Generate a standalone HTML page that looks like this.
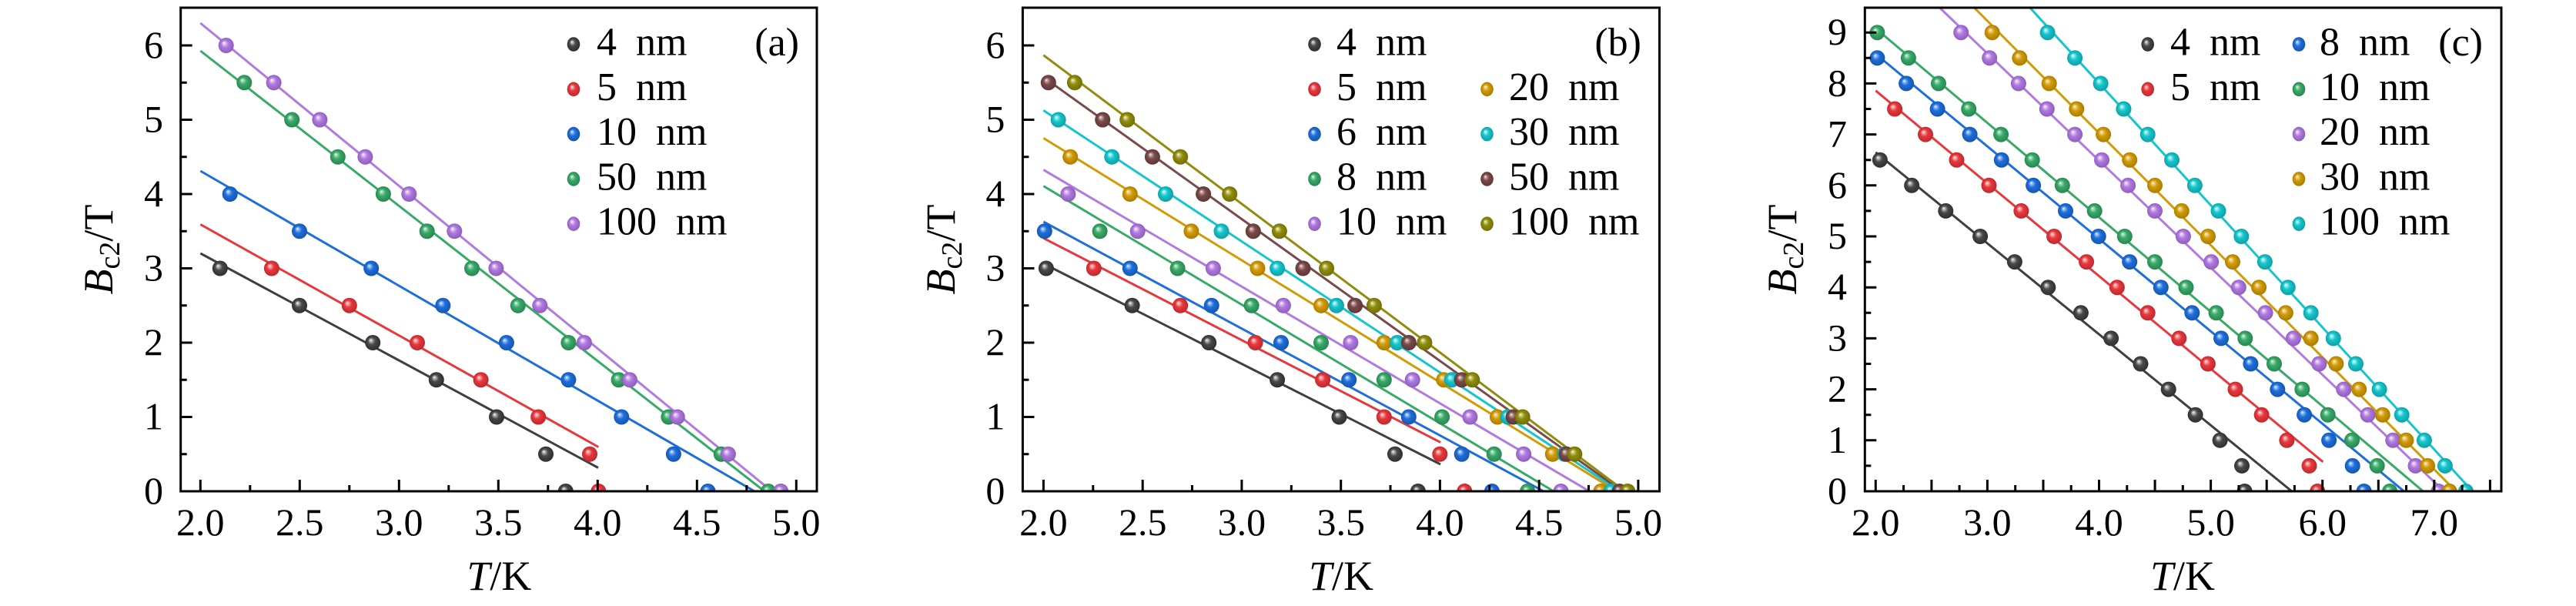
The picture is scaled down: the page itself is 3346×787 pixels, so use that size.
<!DOCTYPE html>
<html><head><meta charset="utf-8"><style>
html,body{margin:0;padding:0;background:#fff}
svg{display:block;font-family:"Liberation Serif","DejaVu Serif",serif}
text{font-family:"Liberation Serif","DejaVu Serif",serif;fill:#000}
.tk{font-size:50px}
.lg{font-size:52px;word-spacing:12px}
.al{font-size:54px}
</style></head><body>
<svg width="3346" height="787" viewBox="0 0 3346 787" xmlns="http://www.w3.org/2000/svg" font-family="Liberation Serif, serif">
<defs>
<radialGradient id="gk" cx=".5" cy=".5" r=".55" fx=".36" fy=".33"><stop offset="0" stop-color="#fff"/><stop offset=".13" stop-color="#bdbdbd"/><stop offset=".42" stop-color="#4a4a4a"/><stop offset="1" stop-color="#2a2a2a"/></radialGradient>
<radialGradient id="gr" cx=".5" cy=".5" r=".55" fx=".36" fy=".33"><stop offset="0" stop-color="#fff"/><stop offset=".13" stop-color="#f8b0b2"/><stop offset=".42" stop-color="#e8383d"/><stop offset="1" stop-color="#b8262a"/></radialGradient>
<radialGradient id="gb" cx=".5" cy=".5" r=".55" fx=".36" fy=".33"><stop offset="0" stop-color="#fff"/><stop offset=".13" stop-color="#9cc3f5"/><stop offset=".42" stop-color="#1e6fdc"/><stop offset="1" stop-color="#1452a8"/></radialGradient>
<radialGradient id="gg" cx=".5" cy=".5" r=".55" fx=".36" fy=".33"><stop offset="0" stop-color="#fff"/><stop offset=".13" stop-color="#a6dcbd"/><stop offset=".42" stop-color="#38aa68"/><stop offset="1" stop-color="#27804d"/></radialGradient>
<radialGradient id="gp" cx=".5" cy=".5" r=".55" fx=".36" fy=".33"><stop offset="0" stop-color="#fff"/><stop offset=".13" stop-color="#e1cbf5"/><stop offset=".42" stop-color="#b07ade"/><stop offset="1" stop-color="#8a58b8"/></radialGradient>
<radialGradient id="gy" cx=".5" cy=".5" r=".55" fx=".36" fy=".33"><stop offset="0" stop-color="#fff"/><stop offset=".13" stop-color="#f0d690"/><stop offset=".42" stop-color="#d29b06"/><stop offset="1" stop-color="#a47700"/></radialGradient>
<radialGradient id="gc" cx=".5" cy=".5" r=".55" fx=".36" fy=".33"><stop offset="0" stop-color="#fff"/><stop offset=".13" stop-color="#a0eef0"/><stop offset=".42" stop-color="#14c6cc"/><stop offset="1" stop-color="#0e9aa0"/></radialGradient>
<radialGradient id="gn" cx=".5" cy=".5" r=".55" fx=".36" fy=".33"><stop offset="0" stop-color="#fff"/><stop offset=".13" stop-color="#c7a9a9"/><stop offset=".42" stop-color="#7a4a4a"/><stop offset="1" stop-color="#5a3434"/></radialGradient>
<radialGradient id="go" cx=".5" cy=".5" r=".55" fx=".36" fy=".33"><stop offset="0" stop-color="#fff"/><stop offset=".13" stop-color="#d4d38a"/><stop offset=".42" stop-color="#8f8d0c"/><stop offset="1" stop-color="#6c6a06"/></radialGradient>
<clipPath id="ca"><rect x="234.7" y="10" width="826.3" height="628"/></clipPath>
<clipPath id="cb"><rect x="1328.4" y="10" width="827.1" height="628"/></clipPath>
<clipPath id="cc"><rect x="2422.3" y="10" width="826.7" height="628"/></clipPath>
</defs>

<!-- ================= PANEL A ================= -->
<g clip-path="url(#ca)">
<g stroke-width="3" fill="none">
<line x1="260.3" y1="329" x2="777" y2="607.5" stroke="#3f3f3f"/>
<line x1="260.3" y1="291.4" x2="777.3" y2="580.5" stroke="#e8383d"/>
<line x1="260.3" y1="222" x2="980" y2="638" stroke="#1e6fdc"/>
<line x1="260.3" y1="66" x2="993" y2="638" stroke="#38aa68"/>
<line x1="260.3" y1="30" x2="1002.5" y2="638" stroke="#b07ade"/>
</g>
<g fill="url(#gk)"><circle cx="285.8" cy="348.5" r="10"/><circle cx="389.0" cy="396.75" r="10"/><circle cx="484.2" cy="445" r="10"/><circle cx="566.8" cy="493.25" r="10"/><circle cx="645.0" cy="541.5" r="10"/><circle cx="709.0" cy="589.75" r="10"/><circle cx="734.8" cy="638" r="10"/></g>
<g fill="url(#gr)"><circle cx="352.9" cy="348.5" r="10"/><circle cx="453.8" cy="396.75" r="10"/><circle cx="542.0" cy="445" r="10"/><circle cx="624.6" cy="493.25" r="10"/><circle cx="699.2" cy="541.5" r="10"/><circle cx="766.0" cy="589.75" r="10"/><circle cx="777.3" cy="638" r="10"/></g>
<g fill="url(#gb)"><circle cx="298.7" cy="252" r="10"/><circle cx="389.0" cy="300.25" r="10"/><circle cx="482.2" cy="348.5" r="10"/><circle cx="575.3" cy="396.75" r="10"/><circle cx="657.9" cy="445" r="10"/><circle cx="738.4" cy="493.25" r="10"/><circle cx="807.3" cy="541.5" r="10"/><circle cx="874.9" cy="589.75" r="10"/><circle cx="919.5" cy="638" r="10"/></g>
<g fill="url(#gg)"><circle cx="317.3" cy="107.25" r="10"/><circle cx="379.2" cy="155.5" r="10"/><circle cx="438.8" cy="203.75" r="10"/><circle cx="497.9" cy="252" r="10"/><circle cx="554.7" cy="300.25" r="10"/><circle cx="613.0" cy="348.5" r="10"/><circle cx="672.8" cy="396.75" r="10"/><circle cx="738.4" cy="445" r="10"/><circle cx="803.6" cy="493.25" r="10"/><circle cx="868.4" cy="541.5" r="10"/><circle cx="936.8" cy="589.75" r="10"/><circle cx="997.9" cy="638" r="10"/></g>
<g fill="url(#gp)"><circle cx="293.7" cy="59" r="10"/><circle cx="355.6" cy="107.25" r="10"/><circle cx="415.4" cy="155.5" r="10"/><circle cx="474.4" cy="203.75" r="10"/><circle cx="531.3" cy="252" r="10"/><circle cx="590.3" cy="300.25" r="10"/><circle cx="644.4" cy="348.5" r="10"/><circle cx="701.3" cy="396.75" r="10"/><circle cx="758.9" cy="445" r="10"/><circle cx="817.9" cy="493.25" r="10"/><circle cx="879.8" cy="541.5" r="10"/><circle cx="945.9" cy="589.75" r="10"/><circle cx="1014.2" cy="638" r="10"/></g>
</g>
<rect x="234.7" y="10" width="826.3" height="628" fill="none" stroke="#000" stroke-width="3"/>
<path stroke="#000" stroke-width="3" fill="none" d="M260.3 638v-15M324.8 638v-8M389.3 638v-15M453.8 638v-8M518.3 638v-15M582.8 638v-8M647.3 638v-15M711.8 638v-8M776.3 638v-15M840.8 638v-8M905.3 638v-15M969.8 638v-8M1034.3 638v-15
M234.7 638h15M234.7 589.75h8M234.7 541.5h15M234.7 493.25h8M234.7 445h15M234.7 396.75h8M234.7 348.5h15M234.7 300.25h8M234.7 252h15M234.7 203.75h8M234.7 155.5h15M234.7 107.25h8M234.7 59h15"/>
<g class="tk" text-anchor="middle">
<text x="260.3" y="695">2.0</text><text x="389.3" y="695">2.5</text><text x="518.3" y="695">3.0</text><text x="647.3" y="695">3.5</text><text x="776.3" y="695">4.0</text><text x="905.3" y="695">4.5</text><text x="1034.3" y="695">5.0</text>
</g>
<g class="tk" text-anchor="end">
<text x="212" y="654">0</text><text x="212" y="557.5">1</text><text x="212" y="461">2</text><text x="212" y="364.5">3</text><text x="212" y="268">4</text><text x="212" y="171.5">5</text><text x="212" y="75">6</text>
</g>
<text class="al" x="648.4" y="766" text-anchor="middle"><tspan font-style="italic">T</tspan>/K</text>
<text class="al" transform="translate(146,324) rotate(-90)" text-anchor="middle"><tspan font-style="italic">B</tspan><tspan font-size="38" dy="9">c2</tspan><tspan dy="-9">/T</tspan></text>
<g>
<ellipse cx="745" cy="57.5" rx="8.3" ry="9.3" fill="url(#gk)"/>
<ellipse cx="745" cy="115.8" rx="8.3" ry="9.3" fill="url(#gr)"/>
<ellipse cx="745" cy="174.1" rx="8.3" ry="9.3" fill="url(#gb)"/>
<ellipse cx="745" cy="232.4" rx="8.3" ry="9.3" fill="url(#gg)"/>
<ellipse cx="745" cy="290.7" rx="8.3" ry="9.3" fill="url(#gp)"/>
</g>
<g class="lg">
<text x="775" y="71.5">4 nm</text><text x="775" y="129.8">5 nm</text><text x="775" y="188.1">10 nm</text><text x="775" y="246.4">50 nm</text><text x="775" y="304.7">100 nm</text>
</g>
<text class="lg" x="1038" y="72" text-anchor="end">(a)</text>

<!-- ================= PANEL B ================= -->
<g clip-path="url(#cb)">
<g stroke-width="3" fill="none">
<line x1="1355.4" y1="342.4" x2="1871" y2="603" stroke="#3f3f3f"/>
<line x1="1355.4" y1="309.3" x2="1871" y2="574.4" stroke="#e8383d"/>
<line x1="1355.4" y1="288" x2="2005" y2="638" stroke="#1e6fdc"/>
<line x1="1355.4" y1="241.6" x2="2018" y2="638" stroke="#38aa68"/>
<line x1="1355.4" y1="220.6" x2="2064.5" y2="638" stroke="#b07ade"/>
<line x1="1355.4" y1="179.4" x2="2100" y2="638" stroke="#d29b06"/>
<line x1="1355.4" y1="143.4" x2="2104" y2="638" stroke="#14c6cc"/>
<line x1="1355.4" y1="100.3" x2="2107" y2="638" stroke="#7a4a4a"/>
<line x1="1355.4" y1="71.7" x2="2110.7" y2="638" stroke="#8f8d0c"/>
</g>
<g fill="url(#gk)"><circle cx="1358.9" cy="348.5" r="10"/><circle cx="1470.6" cy="396.75" r="10"/><circle cx="1570.2" cy="445" r="10"/><circle cx="1659.1" cy="493.25" r="10"/><circle cx="1739.5" cy="541.5" r="10"/><circle cx="1812.0" cy="589.75" r="10"/><circle cx="1841.9" cy="638" r="10"/></g>
<g fill="url(#gr)"><circle cx="1420.8" cy="348.5" r="10"/><circle cx="1533.2" cy="396.75" r="10"/><circle cx="1630.6" cy="445" r="10"/><circle cx="1718.1" cy="493.25" r="10"/><circle cx="1797.8" cy="541.5" r="10"/><circle cx="1870.3" cy="589.75" r="10"/><circle cx="1902.3" cy="638" r="10"/></g>
<g fill="url(#gb)"><circle cx="1356.8" cy="300.25" r="10"/><circle cx="1467.8" cy="348.5" r="10"/><circle cx="1573.7" cy="396.75" r="10"/><circle cx="1664.0" cy="445" r="10"/><circle cx="1752.2" cy="493.25" r="10"/><circle cx="1829.8" cy="541.5" r="10"/><circle cx="1898.7" cy="589.75" r="10"/><circle cx="1937.9" cy="638" r="10"/></g>
<g fill="url(#gg)"><circle cx="1428.6" cy="300.25" r="10"/><circle cx="1529.6" cy="348.5" r="10"/><circle cx="1625.6" cy="396.75" r="10"/><circle cx="1716.0" cy="445" r="10"/><circle cx="1797.8" cy="493.25" r="10"/><circle cx="1873.1" cy="541.5" r="10"/><circle cx="1940.7" cy="589.75" r="10"/><circle cx="1984.1" cy="638" r="10"/></g>
<g fill="url(#gp)"><circle cx="1387.4" cy="252" r="10"/><circle cx="1477.7" cy="300.25" r="10"/><circle cx="1575.9" cy="348.5" r="10"/><circle cx="1666.9" cy="396.75" r="10"/><circle cx="1754.4" cy="445" r="10"/><circle cx="1834.7" cy="493.25" r="10"/><circle cx="1909.4" cy="541.5" r="10"/><circle cx="1979.1" cy="589.75" r="10"/><circle cx="2027.5" cy="638" r="10"/></g>
<g fill="url(#gy)"><circle cx="1390.2" cy="203.75" r="10"/><circle cx="1467.8" cy="252" r="10"/><circle cx="1547.4" cy="300.25" r="10"/><circle cx="1633.5" cy="348.5" r="10"/><circle cx="1716.0" cy="396.75" r="10"/><circle cx="1797.8" cy="445" r="10"/><circle cx="1875.3" cy="493.25" r="10"/><circle cx="1945.0" cy="541.5" r="10"/><circle cx="2016.8" cy="589.75" r="10"/><circle cx="2079.4" cy="638" r="10"/></g>
<g fill="url(#gc)"><circle cx="1374.6" cy="155.5" r="10"/><circle cx="1444.3" cy="203.75" r="10"/><circle cx="1514.0" cy="252" r="10"/><circle cx="1586.5" cy="300.25" r="10"/><circle cx="1659.1" cy="348.5" r="10"/><circle cx="1735.9" cy="396.75" r="10"/><circle cx="1814.8" cy="445" r="10"/><circle cx="1885.9" cy="493.25" r="10"/><circle cx="1958.5" cy="541.5" r="10"/><circle cx="2032.4" cy="589.75" r="10"/><circle cx="2092.9" cy="638" r="10"/></g>
<g fill="url(#gn)"><circle cx="1361.8" cy="107.25" r="10"/><circle cx="1432.2" cy="155.5" r="10"/><circle cx="1496.9" cy="203.75" r="10"/><circle cx="1563.1" cy="252" r="10"/><circle cx="1627.8" cy="300.25" r="10"/><circle cx="1692.5" cy="348.5" r="10"/><circle cx="1760.1" cy="396.75" r="10"/><circle cx="1829.8" cy="445" r="10"/><circle cx="1898.7" cy="493.25" r="10"/><circle cx="1965.6" cy="541.5" r="10"/><circle cx="2034.6" cy="589.75" r="10"/><circle cx="2103.6" cy="638" r="10"/></g>
<g fill="url(#go)"><circle cx="1395.9" cy="107.25" r="10"/><circle cx="1464.2" cy="155.5" r="10"/><circle cx="1533.2" cy="203.75" r="10"/><circle cx="1597.2" cy="252" r="10"/><circle cx="1661.9" cy="300.25" r="10"/><circle cx="1723.1" cy="348.5" r="10"/><circle cx="1784.9" cy="396.75" r="10"/><circle cx="1850.4" cy="445" r="10"/><circle cx="1912.3" cy="493.25" r="10"/><circle cx="1977.7" cy="541.5" r="10"/><circle cx="2045.3" cy="589.75" r="10"/><circle cx="2114.2" cy="638" r="10"/></g>
</g>
<rect x="1328.4" y="10" width="827.1" height="628" fill="none" stroke="#000" stroke-width="3"/>
<path stroke="#000" stroke-width="3" fill="none" d="M1355.4 638v-15M1419.8 638v-8M1484.2 638v-15M1548.5 638v-8M1612.9 638v-15M1677.3 638v-8M1741.7 638v-15M1806 638v-8M1870.4 638v-15M1934.8 638v-8M1999.2 638v-15M2063.5 638v-8M2127.9 638v-15
M1328.4 638h15M1328.4 589.75h8M1328.4 541.5h15M1328.4 493.25h8M1328.4 445h15M1328.4 396.75h8M1328.4 348.5h15M1328.4 300.25h8M1328.4 252h15M1328.4 203.75h8M1328.4 155.5h15M1328.4 107.25h8M1328.4 59h15"/>
<g class="tk" text-anchor="middle">
<text x="1355.4" y="695">2.0</text><text x="1484.2" y="695">2.5</text><text x="1612.9" y="695">3.0</text><text x="1741.7" y="695">3.5</text><text x="1870.4" y="695">4.0</text><text x="1999.2" y="695">4.5</text><text x="2127.9" y="695">5.0</text>
</g>
<g class="tk" text-anchor="end">
<text x="1305.4" y="654">0</text><text x="1305.4" y="557.5">1</text><text x="1305.4" y="461">2</text><text x="1305.4" y="364.5">3</text><text x="1305.4" y="268">4</text><text x="1305.4" y="171.5">5</text><text x="1305.4" y="75">6</text>
</g>
<text class="al" x="1742" y="766" text-anchor="middle"><tspan font-style="italic">T</tspan>/K</text>
<text class="al" transform="translate(1240,324) rotate(-90)" text-anchor="middle"><tspan font-style="italic">B</tspan><tspan font-size="38" dy="9">c2</tspan><tspan dy="-9">/T</tspan></text>
<g>
<ellipse cx="1707.5" cy="57.5" rx="8.3" ry="9.3" fill="url(#gk)"/>
<ellipse cx="1707.5" cy="115.8" rx="8.3" ry="9.3" fill="url(#gr)"/>
<ellipse cx="1707.5" cy="174.1" rx="8.3" ry="9.3" fill="url(#gb)"/>
<ellipse cx="1707.5" cy="232.4" rx="8.3" ry="9.3" fill="url(#gg)"/>
<ellipse cx="1707.5" cy="290.7" rx="8.3" ry="9.3" fill="url(#gp)"/>
<ellipse cx="1931.5" cy="115.8" rx="8.3" ry="9.3" fill="url(#gy)"/>
<ellipse cx="1931.5" cy="174.1" rx="8.3" ry="9.3" fill="url(#gc)"/>
<ellipse cx="1931.5" cy="232.4" rx="8.3" ry="9.3" fill="url(#gn)"/>
<ellipse cx="1931.5" cy="290.7" rx="8.3" ry="9.3" fill="url(#go)"/>
</g>
<g class="lg">
<text x="1736" y="71.5">4 nm</text><text x="1736" y="129.8">5 nm</text><text x="1736" y="188.1">6 nm</text><text x="1736" y="246.4">8 nm</text><text x="1736" y="304.7">10 nm</text>
<text x="1960" y="129.8">20 nm</text><text x="1960" y="188.1">30 nm</text><text x="1960" y="246.4">50 nm</text><text x="1960" y="304.7">100 nm</text>
</g>
<text class="lg" x="2132" y="72" text-anchor="end">(b)</text>

<!-- ================= PANEL C ================= -->
<g clip-path="url(#cc)">
<g stroke-width="3" fill="none">
<line x1="2436.3" y1="197.8" x2="2976.8" y2="638" stroke="#3f3f3f"/>
<line x1="2436.3" y1="117.7" x2="3017.3" y2="599.9" stroke="#e8383d"/>
<line x1="2436.3" y1="70" x2="3122.6" y2="638" stroke="#1e6fdc"/>
<line x1="2436.3" y1="36.9" x2="3147.4" y2="638" stroke="#38aa68"/>
<line x1="2519.5" y1="10" x2="3174.5" y2="638" stroke="#b07ade"/>
<line x1="2564.3" y1="10" x2="3190.1" y2="638" stroke="#d29b06"/>
<line x1="2636.8" y1="10" x2="3211.5" y2="638" stroke="#14c6cc"/>
</g>
<g fill="url(#gk)"><circle cx="2441.9" cy="207.7" r="10"/><circle cx="2483.2" cy="240.8" r="10"/><circle cx="2527.3" cy="273.9" r="10"/><circle cx="2572.1" cy="307" r="10"/><circle cx="2616.9" cy="340.1" r="10"/><circle cx="2660.3" cy="373.2" r="10"/><circle cx="2702.9" cy="406.3" r="10"/><circle cx="2742.1" cy="439.4" r="10"/><circle cx="2780.5" cy="472.5" r="10"/><circle cx="2816.7" cy="505.6" r="10"/><circle cx="2851.6" cy="538.7" r="10"/><circle cx="2883.6" cy="571.8" r="10"/><circle cx="2912.0" cy="604.9" r="10"/><circle cx="2915.6" cy="638" r="10"/></g>
<g fill="url(#gr)"><circle cx="2461.1" cy="141.5" r="10"/><circle cx="2501.0" cy="174.6" r="10"/><circle cx="2541.5" cy="207.7" r="10"/><circle cx="2583.5" cy="240.8" r="10"/><circle cx="2625.4" cy="273.9" r="10"/><circle cx="2668.1" cy="307" r="10"/><circle cx="2710.1" cy="340.1" r="10"/><circle cx="2749.9" cy="373.2" r="10"/><circle cx="2789.7" cy="406.3" r="10"/><circle cx="2830.3" cy="439.4" r="10"/><circle cx="2867.9" cy="472.5" r="10"/><circle cx="2903.5" cy="505.6" r="10"/><circle cx="2937.6" cy="538.7" r="10"/><circle cx="2970.4" cy="571.8" r="10"/><circle cx="2999.5" cy="604.9" r="10"/><circle cx="3010.2" cy="638" r="10"/></g>
<g fill="url(#gb)"><circle cx="2438.4" cy="75.3" r="10"/><circle cx="2476.1" cy="108.4" r="10"/><circle cx="2516.6" cy="141.5" r="10"/><circle cx="2558.6" cy="174.6" r="10"/><circle cx="2599.8" cy="207.7" r="10"/><circle cx="2641.1" cy="240.8" r="10"/><circle cx="2683.0" cy="273.9" r="10"/><circle cx="2725.7" cy="307" r="10"/><circle cx="2766.2" cy="340.1" r="10"/><circle cx="2806.8" cy="373.2" r="10"/><circle cx="2847.3" cy="406.3" r="10"/><circle cx="2885.0" cy="439.4" r="10"/><circle cx="2923.4" cy="472.5" r="10"/><circle cx="2958.3" cy="505.6" r="10"/><circle cx="2993.1" cy="538.7" r="10"/><circle cx="3025.1" cy="571.8" r="10"/><circle cx="3055.7" cy="604.9" r="10"/><circle cx="3070.6" cy="638" r="10"/></g>
<g fill="url(#gg)"><circle cx="2438.4" cy="42.2" r="10"/><circle cx="2478.9" cy="75.3" r="10"/><circle cx="2518.0" cy="108.4" r="10"/><circle cx="2557.2" cy="141.5" r="10"/><circle cx="2599.1" cy="174.6" r="10"/><circle cx="2639.7" cy="207.7" r="10"/><circle cx="2678.8" cy="240.8" r="10"/><circle cx="2720.7" cy="273.9" r="10"/><circle cx="2759.8" cy="307" r="10"/><circle cx="2799.0" cy="340.1" r="10"/><circle cx="2839.5" cy="373.2" r="10"/><circle cx="2878.6" cy="406.3" r="10"/><circle cx="2916.3" cy="439.4" r="10"/><circle cx="2954.0" cy="472.5" r="10"/><circle cx="2990.3" cy="505.6" r="10"/><circle cx="3023.7" cy="538.7" r="10"/><circle cx="3055.0" cy="571.8" r="10"/><circle cx="3087.7" cy="604.9" r="10"/><circle cx="3104.1" cy="638" r="10"/></g>
<g fill="url(#gp)"><circle cx="2547.2" cy="42.2" r="10"/><circle cx="2584.2" cy="75.3" r="10"/><circle cx="2621.9" cy="108.4" r="10"/><circle cx="2658.8" cy="141.5" r="10"/><circle cx="2695.1" cy="174.6" r="10"/><circle cx="2730.0" cy="207.7" r="10"/><circle cx="2764.1" cy="240.8" r="10"/><circle cx="2799.0" cy="273.9" r="10"/><circle cx="2835.9" cy="307" r="10"/><circle cx="2872.2" cy="340.1" r="10"/><circle cx="2907.8" cy="373.2" r="10"/><circle cx="2942.6" cy="406.3" r="10"/><circle cx="2978.9" cy="439.4" r="10"/><circle cx="3012.3" cy="472.5" r="10"/><circle cx="3044.3" cy="505.6" r="10"/><circle cx="3075.6" cy="538.7" r="10"/><circle cx="3108.3" cy="571.8" r="10"/><circle cx="3137.5" cy="604.9" r="10"/><circle cx="3167.4" cy="638" r="10"/></g>
<g fill="url(#gy)"><circle cx="2587.7" cy="42.2" r="10"/><circle cx="2623.3" cy="75.3" r="10"/><circle cx="2661.7" cy="108.4" r="10"/><circle cx="2697.3" cy="141.5" r="10"/><circle cx="2732.1" cy="174.6" r="10"/><circle cx="2766.2" cy="207.7" r="10"/><circle cx="2799.0" cy="240.8" r="10"/><circle cx="2833.8" cy="273.9" r="10"/><circle cx="2868.0" cy="307" r="10"/><circle cx="2900.0" cy="340.1" r="10"/><circle cx="2934.1" cy="373.2" r="10"/><circle cx="2968.9" cy="406.3" r="10"/><circle cx="3001.7" cy="439.4" r="10"/><circle cx="3034.4" cy="472.5" r="10"/><circle cx="3064.2" cy="505.6" r="10"/><circle cx="3094.8" cy="538.7" r="10"/><circle cx="3125.4" cy="571.8" r="10"/><circle cx="3153.1" cy="604.9" r="10"/><circle cx="3181.6" cy="638" r="10"/></g>
<g fill="url(#gc)"><circle cx="2659.6" cy="42.2" r="10"/><circle cx="2695.1" cy="75.3" r="10"/><circle cx="2728.6" cy="108.4" r="10"/><circle cx="2758.4" cy="141.5" r="10"/><circle cx="2789.7" cy="174.6" r="10"/><circle cx="2821.0" cy="207.7" r="10"/><circle cx="2850.9" cy="240.8" r="10"/><circle cx="2881.5" cy="273.9" r="10"/><circle cx="2911.3" cy="307" r="10"/><circle cx="2941.9" cy="340.1" r="10"/><circle cx="2971.8" cy="373.2" r="10"/><circle cx="3001.7" cy="406.3" r="10"/><circle cx="3030.8" cy="439.4" r="10"/><circle cx="3060.0" cy="472.5" r="10"/><circle cx="3090.6" cy="505.6" r="10"/><circle cx="3119.7" cy="538.7" r="10"/><circle cx="3148.9" cy="571.8" r="10"/><circle cx="3175.9" cy="604.9" r="10"/><circle cx="3202.9" cy="638" r="10"/></g>
</g>
<rect x="2422.3" y="10" width="826.7" height="628" fill="none" stroke="#000" stroke-width="3"/>
<path stroke="#000" stroke-width="3" fill="none" d="M2436.3 638v-15M2472.6 638v-8M2508.9 638v-15M2545.1 638v-8M2581.4 638v-15M2617.7 638v-8M2654 638v-15M2690.2 638v-8M2726.5 638v-15M2762.8 638v-8M2799.1 638v-15M2835.3 638v-8M2871.6 638v-15M2907.9 638v-8M2944.2 638v-15M2980.4 638v-8M3016.7 638v-15M3053 638v-8M3089.3 638v-15M3125.5 638v-8M3161.8 638v-15M3198.1 638v-8M3234.4 638v-15
M2422.3 638h15M2422.3 604.9h8M2422.3 571.8h15M2422.3 538.7h8M2422.3 505.6h15M2422.3 472.5h8M2422.3 439.4h15M2422.3 406.3h8M2422.3 373.2h15M2422.3 340.1h8M2422.3 307h15M2422.3 273.9h8M2422.3 240.8h15M2422.3 207.7h8M2422.3 174.6h15M2422.3 141.5h8M2422.3 108.4h15M2422.3 75.3h8M2422.3 42.2h15"/>
<g class="tk" text-anchor="middle">
<text x="2436.3" y="695">2.0</text><text x="2581.4" y="695">3.0</text><text x="2726.5" y="695">4.0</text><text x="2871.6" y="695">5.0</text><text x="3016.7" y="695">6.0</text><text x="3161.8" y="695">7.0</text>
</g>
<g class="tk" text-anchor="end">
<text x="2399" y="654">0</text><text x="2399" y="587.8">1</text><text x="2399" y="521.6">2</text><text x="2399" y="455.4">3</text><text x="2399" y="389.2">4</text><text x="2399" y="323">5</text><text x="2399" y="256.8">6</text><text x="2399" y="190.6">7</text><text x="2399" y="124.4">8</text><text x="2399" y="58.2">9</text>
</g>
<text class="al" x="2835" y="766" text-anchor="middle"><tspan font-style="italic">T</tspan>/K</text>
<text class="al" transform="translate(2333,324) rotate(-90)" text-anchor="middle"><tspan font-style="italic">B</tspan><tspan font-size="38" dy="9">c2</tspan><tspan dy="-9">/T</tspan></text>
<g>
<ellipse cx="2789.7" cy="57.5" rx="8.3" ry="9.3" fill="url(#gk)"/>
<ellipse cx="2789.7" cy="115.8" rx="8.3" ry="9.3" fill="url(#gr)"/>
<ellipse cx="2986" cy="57.5" rx="8.3" ry="9.3" fill="url(#gb)"/>
<ellipse cx="2986" cy="115.8" rx="8.3" ry="9.3" fill="url(#gg)"/>
<ellipse cx="2986" cy="174.1" rx="8.3" ry="9.3" fill="url(#gp)"/>
<ellipse cx="2986" cy="232.4" rx="8.3" ry="9.3" fill="url(#gy)"/>
<ellipse cx="2986" cy="290.7" rx="8.3" ry="9.3" fill="url(#gc)"/>
</g>
<g class="lg">
<text x="2819" y="71.5">4 nm</text><text x="2819" y="129.8">5 nm</text>
<text x="3013" y="71.5">8 nm</text><text x="3013" y="129.8">10 nm</text><text x="3013" y="188.1">20 nm</text><text x="3013" y="246.4">30 nm</text><text x="3013" y="304.7">100 nm</text>
</g>
<text class="lg" x="3225" y="72" text-anchor="end">(c)</text>
</svg>
</body></html>
